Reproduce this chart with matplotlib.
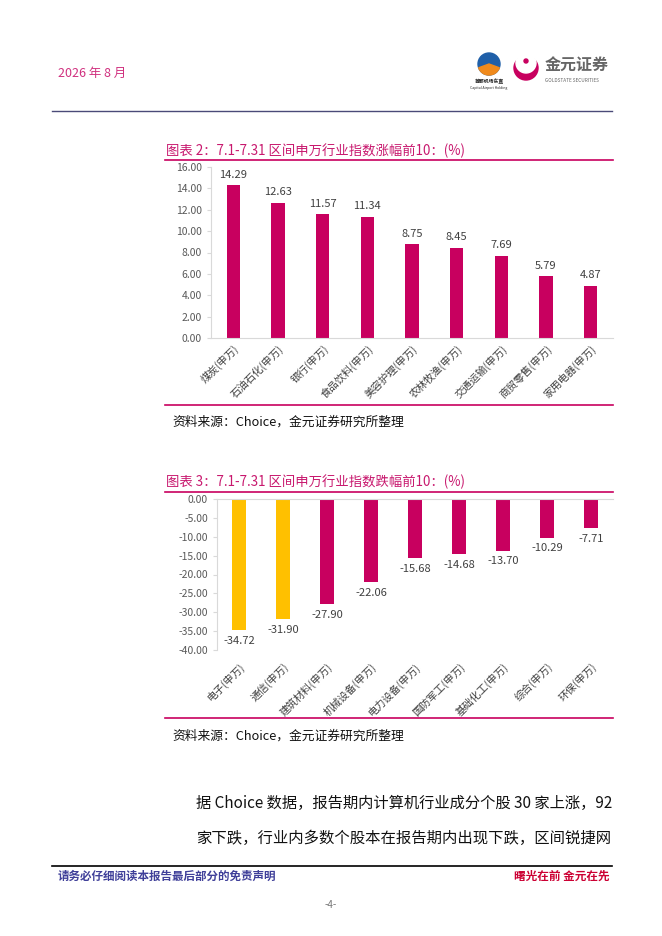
import matplotlib
matplotlib.use("Agg")
import matplotlib.pyplot as plt
from matplotlib.patches import Circle, Wedge
from matplotlib.lines import Line2D

plt.rcParams['font.family'] = ['Noto Sans CJK SC', 'DejaVu Sans']

# ---- data ----
up_categories = ["煤炭(申万)", "石油石化(申万)", "银行(申万)", "食品饮料(申万)", "美容护理(申万)",
                 "农林牧渔(申万)", "交通运输(申万)", "商贸零售(申万)", "家用电器(申万)"]
up_values = [14.29, 12.63, 11.57, 11.34, 8.75, 8.45, 7.69, 5.79, 4.87]

down_categories = ["电子(申万)", "通信(申万)", "建筑材料(申万)", "机械设备(申万)", "电力设备(申万)",
                   "国防军工(申万)", "基础化工(申万)", "综合(申万)", "环保(申万)"]
down_values = [-34.72, -31.90, -27.90, -22.06, -15.68, -14.68, -13.70, -10.29, -7.71]

up_ticks = [0, 2, 4, 6, 8, 10, 12, 14, 16]
down_ticks = [0, -5, -10, -15, -20, -25, -30, -35, -40]

W, H = 662, 936
MAG = "#C8005F"
YEL = "#FFC000"
TITLE_C = "#C8186E"

fig = plt.figure(figsize=(W / 100, H / 100), dpi=100)


def fx(x):
    return x / W


def fy(y):
    return 1 - y / H


def hline(y, x0, x1, color, lw):
    fig.add_artist(Line2D([fx(x0), fx(x1)], [fy(y), fy(y)], color=color, lw=lw,
                          transform=fig.transFigure))


def ftext(x, y, s, **kw):
    fig.text(fx(x), fy(y), s, **kw)


# ---- header ----
ftext(58, 73, "2026 年 8 月", color="#D0307F", fontsize=9, va="center", ha="left")
hline(111, 52, 612, "#4A4A78", 1.0)

# logos (approximated)
ax_logo = fig.add_axes([0, 0, 1, 1], zorder=-1)
ax_logo.set_xlim(0, W)
ax_logo.set_ylim(H, 0)
ax_logo.axis("off")
ax_logo.add_patch(Circle((489, 64), 11, color="#1F5FA8"))
ax_logo.add_patch(Wedge((489, 64), 11, 20, 160, color="#F08A1C"))
ax_logo.add_patch(Circle((526, 68), 12, color="#C8005F"))
ax_logo.add_patch(Circle((526, 63), 10, color="white"))
ax_logo.add_patch(Circle((526, 61), 2, color="#C8005F"))
ax_logo.text(489, 82, "首都机场东直", fontsize=3.5, ha="center", va="center", color="#222222", weight="bold")
ax_logo.text(489, 88, "Capital Airport Holding", fontsize=2.5, ha="center", va="center", color="#222222")
ax_logo.text(545, 66, "金元证券", fontsize=11.5, ha="left", va="center", color="#666666", weight="bold")
ax_logo.text(545, 80, "GOLDSTATE SECURITIES", fontsize=3.4, ha="left", va="center", color="#666666")


def style_axes(ax):
    for s in ["top", "right", "bottom", "left"]:
        ax.spines[s].set_color("#D9D9D9")
        ax.spines[s].set_linewidth(0.8)
    ax.tick_params(axis="y", colors="#D9D9D9", labelcolor="#595959", labelsize=7.5, length=3, direction="out")
    ax.tick_params(axis="x", colors="#D9D9D9", labelcolor="#404040", labelsize=7.5, length=0)


# ---- chart 1 ----
ftext(166, 151, "图表 2：7.1-7.31 区间申万行业指数涨幅前10：(%)", color=TITLE_C, fontsize=9.6, va="center", ha="left")
hline(160, 165, 613, MAG, 1.2)

ax1 = fig.add_axes([fx(211), fy(338), (613 - 211) / W, (338 - 167) / H])
x1 = range(len(up_values))
ax1.bar(x1, up_values, width=0.3, color=MAG)
ax1.set_xlim(-0.5, len(up_values) - 0.5)
ax1.set_ylim(0, 16)
ax1.set_yticks(up_ticks)
ax1.set_yticklabels([f"{v:.2f}" for v in up_ticks])
ax1.set_xticks(list(x1))
ax1.set_xticklabels(up_categories, rotation=45, ha="right", rotation_mode="anchor")
ax1.spines["top"].set_visible(False)
ax1.spines["right"].set_visible(False)
style_axes(ax1)
for i, v in enumerate(up_values):
    ax1.annotate(f"{v:.2f}", (i, v), xytext=(0, 4), textcoords="offset points",
                 ha="center", va="bottom", fontsize=8, color="#404040")

hline(405, 165, 613, MAG, 1.2)
ftext(172, 422, "资料来源：Choice，金元证券研究所整理", color="#111111", fontsize=9.2, va="center", ha="left")

# ---- chart 2 ----
ftext(166, 482, "图表 3：7.1-7.31 区间申万行业指数跌幅前10：(%)", color=TITLE_C, fontsize=9.6, va="center", ha="left")
hline(492, 165, 613, MAG, 1.2)

ax2 = fig.add_axes([fx(217), fy(650), (613 - 217) / W, (650 - 499) / H])
x2 = range(len(down_values))
colors2 = [YEL, YEL] + [MAG] * (len(down_values) - 2)
ax2.bar(x2, down_values, width=0.3, color=colors2)
ax2.set_xlim(-0.5, len(down_values) - 0.5)
ax2.set_ylim(-40, 0)
ax2.set_yticks(down_ticks)
ax2.set_yticklabels([f"{v:.2f}" for v in down_ticks])
ax2.set_xticks(list(x2))
ax2.set_xticklabels(down_categories, rotation=45, ha="right", rotation_mode="anchor")
ax2.spines["bottom"].set_visible(False)
ax2.spines["right"].set_visible(False)
style_axes(ax2)
ax2.tick_params(axis="x", pad=8)
for i, v in enumerate(down_values):
    ax2.annotate(f"{v:.2f}", (i, v), xytext=(0, -4), textcoords="offset points",
                 ha="center", va="top", fontsize=8, color="#404040")

hline(718, 165, 613, MAG, 1.2)
ftext(172, 736, "资料来源：Choice，金元证券研究所整理", color="#111111", fontsize=9.2, va="center", ha="left")

# ---- body text ----
ftext(196, 803, "据 Choice 数据，报告期内计算机行业成分个股 30 家上涨，92", color="#111111",
      fontsize=11, va="center", ha="left")
ftext(196, 838, "家下跌，行业内多数个股本在报告期内出现下跌，区间锐捷网", color="#111111",
      fontsize=11.05, va="center", ha="left")

# ---- footer ----
hline(866, 52, 612, "#000000", 1.2)
ftext(58, 876, "请务必仔细阅读本报告最后部分的免责声明", color="#3F3F99", fontsize=8.3,
      weight="bold", va="center", ha="left")
ftext(610, 876, "曙光在前 金元在先", color="#CC0033", fontsize=8.4,
      weight="bold", va="center", ha="right")
ftext(331, 905, "-4-", color="#777777", fontsize=7, va="center", ha="center")

fig.savefig("out.png", dpi=100)
